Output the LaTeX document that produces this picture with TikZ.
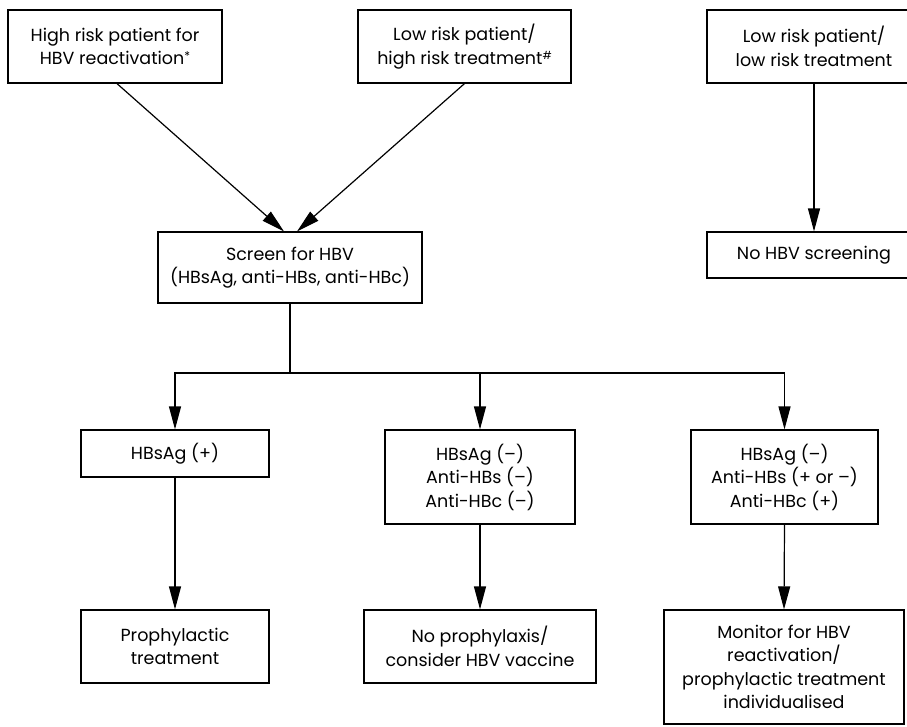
\documentclass[tikz,border=0pt]{standalone}
\usepackage{fontspec}
\setmainfont{Poppins}
\usetikzlibrary{arrows.meta}
\begin{document}
\begin{tikzpicture}[x=1pt,y=-1pt,
  box/.style={draw, line width=1.2pt, align=center, inner sep=0pt, font=\fontsize{17.5}{23.5}\selectfont},
  arr/.style={line width=1.2pt, -{Triangle[length=23pt,width=12pt]}},
  ln/.style={line width=1.2pt}]
\useasboundingbox (0,0) rectangle (907,726);
\node[box, minimum width=214pt, minimum height=73pt] (b1) at (115,46.5)
  {High risk patient for\\HBV reactivation\raisebox{4pt}{\fontsize{12}{12}\selectfont *}};
\node[box, minimum width=213pt, minimum height=73pt] (b2) at (464.5,46.5)
  {Low risk patient/\\high risk treatment\raisebox{5pt}{\fontsize{11}{11}\selectfont \#}};
\node[box, minimum width=214pt, minimum height=73pt] (b3) at (814,46.5)
  {Low risk patient/\\low risk treatment};
\node[box, minimum width=264pt, minimum height=71pt] (scr) at (290,267.5)
  {Screen for HBV\\(HBsAg, anti-HBs, anti-HBc)};
\node[box, minimum width=214pt, minimum height=46pt] (nos) at (814,255)
  {No HBV screening};
\node[box, minimum width=188pt, minimum height=47pt] (h6) at (175,453.5)
  {HBsAg (+)};
\node[box, minimum width=190pt, minimum height=94pt] (h7) at (480,477)
  {HBsAg (–)\\Anti-HBs (–)\\Anti-HBc (–)};
\node[box, minimum width=187pt, minimum height=94pt] (h8) at (784.5,477)
  {HBsAg (–)\\Anti-HBs (+ or –)\\Anti-HBc (+)};
\node[box, minimum width=188pt, minimum height=73pt] (p9) at (175,646.5)
  {Prophylactic\\treatment};
\node[box, minimum width=232pt, minimum height=73pt] (p10) at (480,646.5)
  {No prophylaxis/\\consider HBV vaccine};
\node[box, minimum width=240pt, minimum height=114pt] (p11) at (784,667)
  {Monitor for HBV\\reactivation/\\prophylactic treatment\\individualised};
\draw[arr] ([xshift=2pt]b1.south) -- ([xshift=-6pt]scr.north);
\draw[arr] (b2.south) -- ([xshift=7pt]scr.north);
\draw[arr] (b3.south) -- (nos.north);
\coordinate (j) at (290,373);
\draw[ln] (scr.south) -- (j);
\draw[arr] (j) -| (h6.north);
\draw[arr] (j) -| (h8.north);
\draw[arr] (h7.north |- j) -- (h7.north);
\draw[arr] (h6.south) -- (p9.north);
\draw[arr] (h7.south) -- (p10.north);
\draw[arr] (h8.south) -- (p11.north);
\end{tikzpicture}
\end{document}
